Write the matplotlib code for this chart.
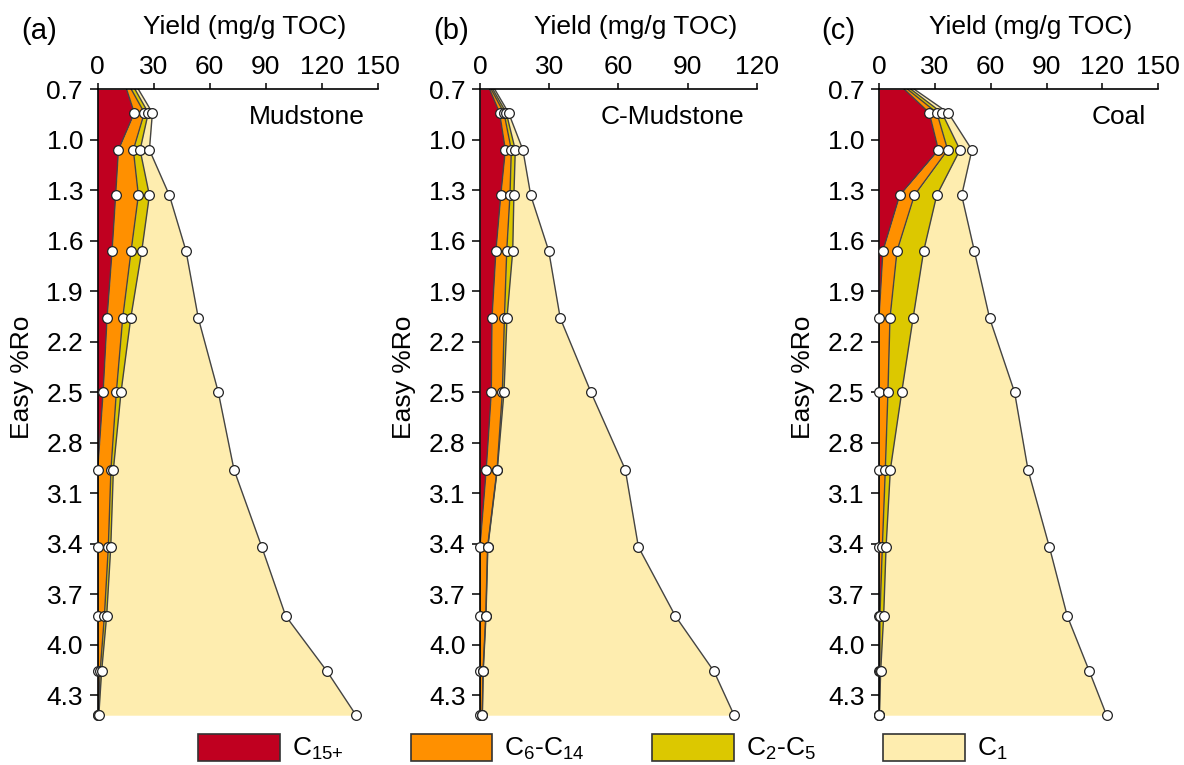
import numpy as np
import matplotlib
matplotlib.use("Agg")
import matplotlib.pyplot as plt
from matplotlib.patches import Patch

plt.rcParams["font.family"] = ["Liberation Sans", "DejaVu Sans"]
plt.rcParams["mathtext.fontset"] = "custom"
plt.rcParams["mathtext.rm"] = "Liberation Sans"
plt.rcParams["mathtext.it"] = "Liberation Sans:italic"

# -----------------------------
# Data (yield in mg/g TOC)
# -----------------------------
ro = [0.70, 0.84, 1.06, 1.33, 1.66, 2.06, 2.50, 2.96, 3.42, 3.83, 4.16, 4.42]
ro_ticks = [0.7, 1.0, 1.3, 1.6, 1.9, 2.2, 2.5, 2.8, 3.1, 3.4, 3.7, 4.0, 4.3]

mud_c15 = [15.5, 19.6, 11.1, 9.6, 7.7, 5.0, 2.9, 0.0, 0.0, 0.0, 0.0, 0.0]
mud_c6 = [2.5, 5.4, 8.0, 12.2, 10.2, 8.4, 7.1, 7.1, 5.7, 3.6, 1.3, 0.4]
mud_c2 = [2.0, 2.1, 3.6, 5.9, 5.7, 4.3, 2.5, 1.3, 1.3, 1.2, 0.8, 0.2]
mud_c1 = [1.8, 2.2, 5.0, 10.7, 23.7, 36.2, 52.1, 64.6, 80.9, 95.9, 120.8, 137.8]

cmud_c15 = [4.2, 8.5, 11.0, 9.0, 6.9, 5.2, 4.9, 2.7, 0.0, 0.0, 0.0, 0.0]
cmud_c6 = [0.7, 1.9, 2.6, 4.0, 4.7, 5.4, 4.8, 4.7, 3.3, 2.5, 1.3, 1.0]
cmud_c2 = [0.7, 1.0, 1.7, 1.7, 2.6, 1.1, 0.7, 0.1, 0.1, 0.1, 0.1, 0.0]
cmud_c1 = [0.8, 1.0, 3.3, 7.3, 15.6, 23.1, 37.7, 55.5, 65.3, 82.1, 100.1, 109.2]

coal_c15 = [13.6, 27.0, 31.9, 11.1, 2.1, 0.0, 0.0, 0.0, 0.0, 0.0, 0.0, 0.0]
coal_c6 = [1.8, 4.1, 5.0, 7.9, 7.6, 5.9, 4.8, 3.4, 1.8, 0.5, 0.5, 0.2]
coal_c2 = [1.8, 2.7, 6.6, 12.0, 14.3, 12.4, 7.4, 2.7, 2.0, 2.0, 0.4, 0.0]
coal_c1 = [1.8, 3.4, 6.4, 13.4, 27.2, 41.1, 60.6, 73.9, 87.7, 98.6, 112.1, 122.0]

fractions = [r"C$_{15{+}}$", r"C$_6$-C$_{14}$", r"C$_2$-C$_5$", r"C$_1$"]
colors = ["#C00020", "#FF9000", "#DCC800", "#FEEDAF"]
line_col = "#444444"

W, H = 1184, 765
fig = plt.figure(figsize=(W / 100, H / 100), dpi=100)

# panel layout in pixels
top_px, bot_px = 89.3, 715.2
panels = [
    # tag, rock type, fractions, x max, (left, width), tag x, title x
    ("(a)", "Mudstone", [mud_c15, mud_c6, mud_c2, mud_c1], 150, (97.7, 280.0), 39, 245),
    ("(b)", "C-Mudstone", [cmud_c15, cmud_c6, cmud_c2, cmud_c1], 120, (480.0, 276.7), 451, 636),
    ("(c)", "Coal", [coal_c15, coal_c6, coal_c2, coal_c1], 150, (879.0, 279.3), 838, 1031),
]


def px(x, y):
    return x / W, 1 - y / H


for tag, name, parts, xmax, (left, width), tag_x, title_x in panels:
    ax = fig.add_axes([left / W, 1 - bot_px / H, width / W, (bot_px - top_px) / H])

    cum = np.cumsum(np.array(parts), axis=0)
    lower = np.zeros(len(ro))
    for upper, col in zip(cum, colors):
        ax.fill_betweenx(ro, lower, upper, color=col, lw=0, zorder=1)
        lower = upper
    for upper in cum:
        ax.plot(upper, ro, color=line_col, lw=1.0, zorder=2)
    for upper in cum:
        ax.plot(upper[1:], ro[1:], "o", ms=7, mfc="white", mec="#222222",
                mew=0.9, zorder=3, clip_on=False)

    ax.set_xlim(0, xmax)
    ax.set_ylim(4.42, 0.7)
    ax.xaxis.tick_top()
    ax.set_xticks(range(0, xmax + 1, 30))
    ax.set_yticks(ro_ticks)
    ax.set_yticklabels([f"{t:.1f}" for t in ro_ticks])
    for s in ["right", "bottom"]:
        ax.spines[s].set_visible(False)
    for s in ["top", "left"]:
        ax.spines[s].set_linewidth(1.2)
    ax.tick_params(axis="x", direction="out", length=4.5, width=1.1, labelsize=19, pad=3)
    ax.tick_params(axis="y", direction="out", length=5.5, width=1.1, labelsize=19, pad=5)

    ax.text(0.955, 0.956, name, transform=ax.transAxes, ha="right", va="center", fontsize=19)

    fig.text(*px(title_x, 27), "Yield (mg/g TOC)", ha="center", va="center", fontsize=19)
    fig.text(*px(tag_x, 31), tag, ha="center", va="center", fontsize=21)
    fig.text(*px(left - 76, 377), "Easy %Ro", ha="center", va="center",
             rotation=90, fontsize=19)

handles = [Patch(facecolor=c, edgecolor="#333333", lw=1.2) for c in colors]
fig.legend(handles, fractions, loc="center left", bbox_to_anchor=px(198, 748),
           ncol=4, frameon=False, fontsize=19, handlelength=3.1, handleheight=1.2,
           handletextpad=0.45, columnspacing=2.55, borderpad=0, borderaxespad=0)

fig.savefig("out.png", dpi=100)
